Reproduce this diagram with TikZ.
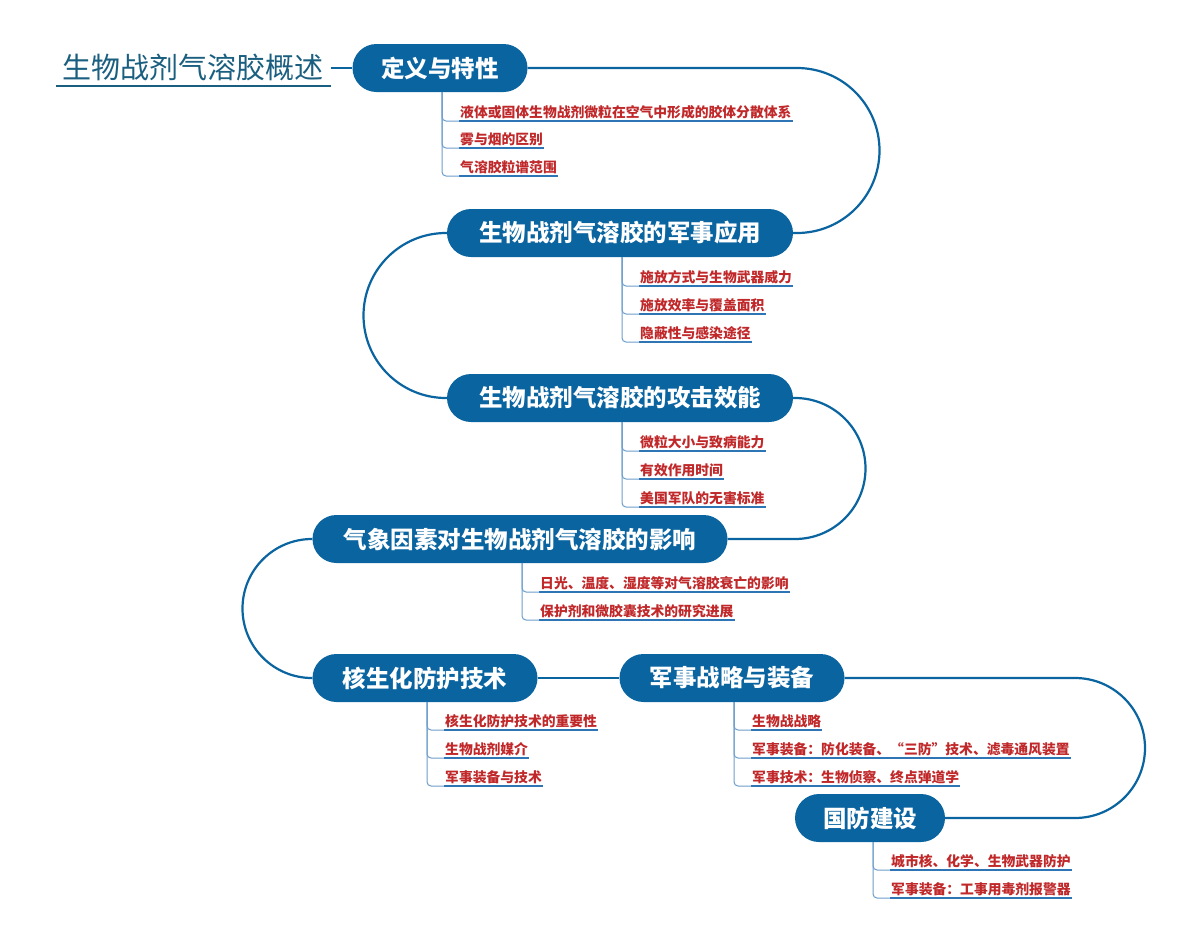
\documentclass[tikz,border=0pt]{standalone}
\usepackage{fontspec}
\newfontfamily\cjk{Noto Sans CJK SC}
\definecolor{nb}{HTML}{0A64A0}
\definecolor{lb}{HTML}{2E75B6}
\definecolor{rd}{HTML}{C0282A}
\definecolor{tt}{HTML}{1A5F80}
\tikzset{
 mainn/.style={fill=nb,text=white,rounded corners=24pt,minimum height=48pt,inner xsep=16pt,font=\cjk\bfseries\fontsize{23.5}{24}\selectfont},
 conn/.style={draw=nb,line width=2.2pt},
 subt/.style={text=rd,inner xsep=1pt,inner ysep=2pt,anchor=south west,font=\cjk\bfseries\fontsize{13.8}{14}\selectfont},
 ul/.style={draw=lb,line width=1.6pt},
 br/.style={draw=lb!70,line width=1pt,rounded corners=4pt}
}
\newcommand{\subit}[5]{% name, x, bottom y, underline y, text
 \node[subt] (#1) at (#2+17,#4) {#5};
 \draw[ul] (#1.south west) -- (#1.south east);
 \draw[br] (#2,#3) |- (#1.south west);
}
\begin{document}
\begin{tikzpicture}[x=1pt,y=-1pt]
\useasboundingbox (0,0) rectangle (1200,943);
\fill[white] (0,0) rectangle (1200,943);
\node[text=tt,font=\cjk\fontsize{29}{29}\selectfont,inner sep=1pt] (title) at (193,67) {生物战剂气溶胶概述};
\draw[tt,line width=1.2pt] (56,86) -- (331,86);
\node[mainn,minimum width=175pt] (n1) at (440,68) {定义与特性};
\node[mainn,minimum width=346pt] (n2) at (620,233) {生物战剂气溶胶的军事应用};
\node[mainn,minimum width=346pt] (n3) at (620,398) {生物战剂气溶胶的攻击效能};
\node[mainn,minimum width=415pt] (n4) at (520,539) {气象因素对生物战剂气溶胶的影响};
\node[mainn,minimum width=225pt] (n5) at (425,678) {核生化防护技术};
\node[mainn,minimum width=225pt] (n6) at (732,678) {军事战略与装备};
\node[mainn,minimum width=150pt] (n7) at (870,818) {国防建设};
\draw[conn] (331,68) -- (n1.west);
\draw[conn] (n1.east) -- (797,68) arc[start angle=-90,end angle=90,radius=82.5] -- (n2.east);
\draw[conn] (n2.west) -- (446,233) arc[start angle=270,end angle=90,radius=82.5] -- (n3.west);
\draw[conn] (n3.east) -- (795,398) arc[start angle=-90,end angle=90,radius=70.5] -- (n4.east);
\draw[conn] (n4.west) -- (312,539) arc[start angle=270,end angle=90,radius=69.5] -- (n5.west);
\draw[conn] (n5.east) -- (n6.west);
\draw[conn] (n6.east) -- (1075,678) arc[start angle=-90,end angle=90,radius=70] -- (n7.east);
\subit{a1}{442}{92}{121}{液体或固体生物战剂微粒在空气中形成的胶体分散体系}
\subit{a2}{442}{92}{148}{雾与烟的区别}
\subit{a3}{442}{92}{176}{气溶胶粒谱范围}
\subit{b1}{622}{257}{286}{施放方式与生物武器威力}
\subit{b2}{622}{257}{314}{施放效率与覆盖面积}
\subit{b3}{622}{257}{342}{隐蔽性与感染途径}
\subit{c1}{622}{422}{451}{微粒大小与致病能力}
\subit{c2}{622}{422}{479}{有效作用时间}
\subit{c3}{622}{422}{507}{美国军队的无害标准}
\subit{d1}{522}{563}{592}{日光、温度、湿度等对气溶胶衰亡的影响}
\subit{d2}{522}{563}{620}{保护剂和微胶囊技术的研究进展}
\subit{e1}{427}{702}{730}{核生化防护技术的重要性}
\subit{e2}{427}{702}{758}{生物战剂媒介}
\subit{e3}{427}{702}{786}{军事装备与技术}
\subit{f1}{734}{702}{730}{生物战战略}
\subit{f2}{734}{702}{758}{军事装备：防化装备、“三防”技术、滤毒通风装置}
\subit{f3}{734}{702}{786}{军事技术：生物侦察、终点弹道学}
\subit{g1}{873}{842}{870}{城市核、化学、生物武器防护}
\subit{g2}{873}{842}{898}{军事装备：工事用毒剂报警器}
\end{tikzpicture}
\end{document}
